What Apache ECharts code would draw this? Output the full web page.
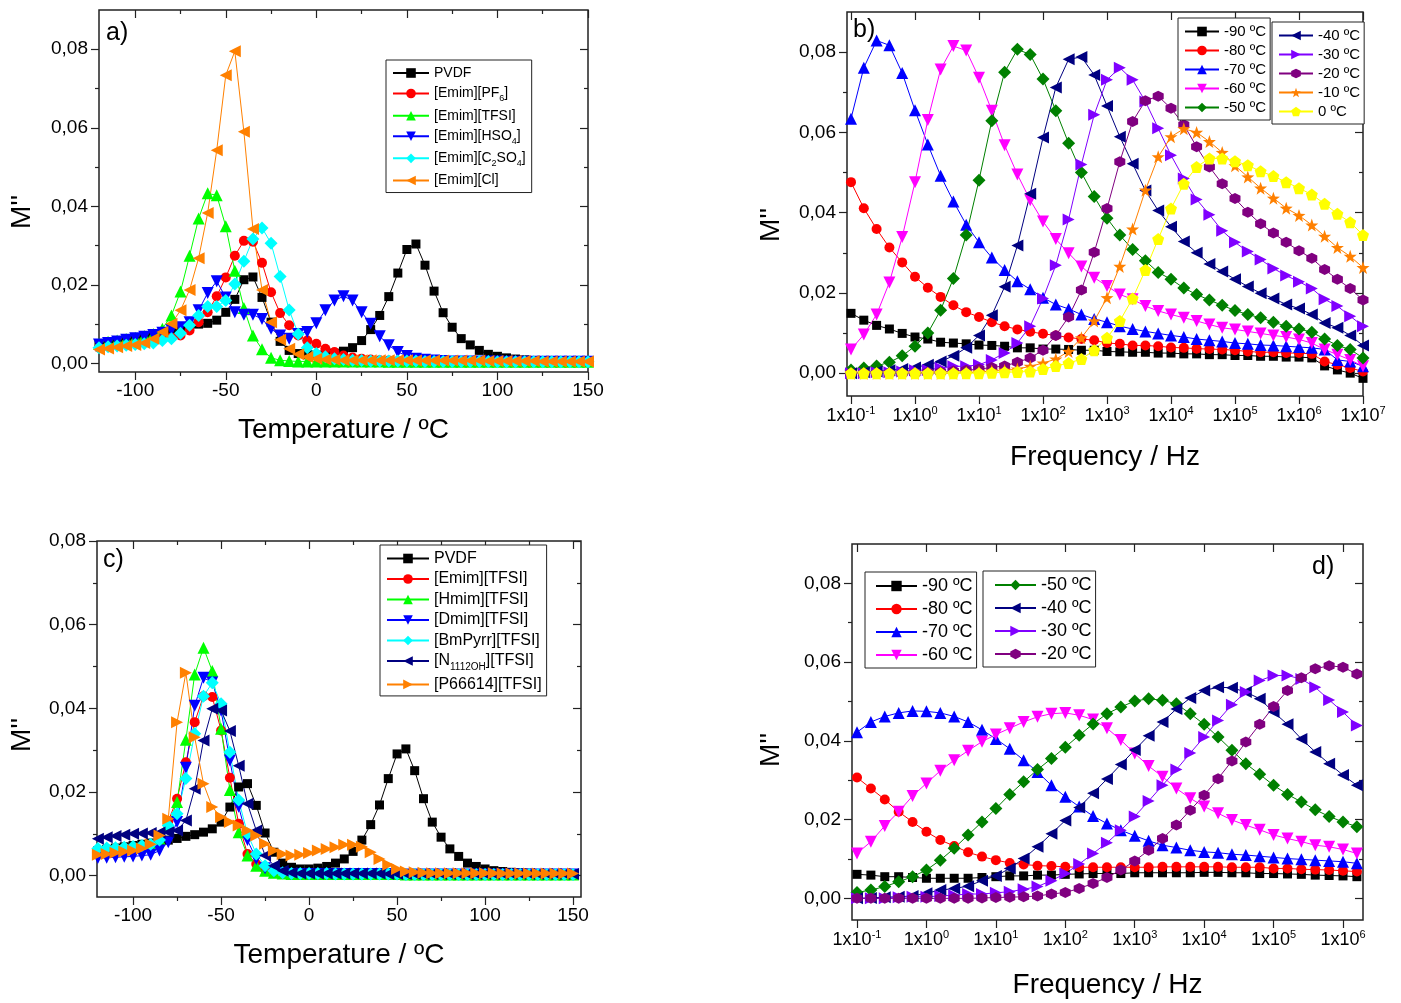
<!DOCTYPE html>
<html>
<head>
<meta charset="utf-8">
<title>M'' vs temperature and frequency</title>
<script src="https://cdn.jsdelivr.net/npm/echarts@6.0.0/dist/echarts.min.js"></script>
<style>
  html, body { margin: 0; padding: 0; background: #fff; }
  #chart { width: 1401px; height: 1003px; }
</style>
</head>
<body>
<div id="chart"></div>
<script>
// ---------- values ----------
// a) and c): M'' against temperature (ºC)
const temps = [-120,-115,-110,-105,-100,-95,-90,-85,-80,-75,-70,-65,-60,-55,-50,-45,-40,-35,-30,-25,-20,-15,-10,-5,0,5,10,15,20,25,30,35,40,45,50,55,60,65,70,75,80,85,90,95,100,105,110,115,120,125,130,135,140,145,150];

const aPVDF  = [0.0048,0.0052,0.0056,0.006,0.0064,0.0068,0.0073,0.0078,0.0083,0.009,0.0095,0.01,0.0102,0.011,0.013,0.0163,0.0213,0.022,0.0168,0.0105,0.0056,0.0033,0.0025,0.0022,0.0021,0.0023,0.0026,0.0031,0.004,0.0058,0.0086,0.0122,0.017,0.023,0.029,0.0304,0.025,0.0184,0.0129,0.0092,0.0063,0.0047,0.0033,0.0023,0.0018,0.0014,0.0011,0.0009,0.0007,0.0006,0.0005,0.0005,0.0004,0.0004,0.0004];
const aPF6   = [0.004,0.0043,0.0046,0.005,0.0053,0.0056,0.006,0.0063,0.0066,0.0071,0.0084,0.0105,0.013,0.0171,0.0219,0.0274,0.0312,0.031,0.0256,0.0181,0.0128,0.0097,0.0071,0.0058,0.005,0.0037,0.0029,0.002,0.0015,0.0012,0.001,0.0008,0.0007,0.0006,0.0005,0.0005,0.0005,0.0005,0.0005,0.0005,0.0005,0.0004,0.0004,0.0004,0.0004,0.0004,0.0004,0.0004,0.0004,0.0004,0.0004,0.0004,0.0004,0.0004,0.0004];
const aTFSI  = [0.005,0.0055,0.0058,0.0062,0.0065,0.007,0.0075,0.0088,0.0122,0.0183,0.0274,0.0369,0.0433,0.0428,0.0349,0.0236,0.0141,0.0071,0.0036,0.0014,0.0008,0.0006,0.0005,0.0005,0.0005,0.0005,0.0005,0.0005,0.0005,0.0005,0.0005,0.0005,0.0004,0.0004,0.0004,0.0004,0.0004,0.0004,0.0004,0.0004,0.0004,0.0004,0.0004,0.0004,0.0004,0.0004,0.0004,0.0004,0.0004,0.0004,0.0004,0.0004,0.0004,0.0004,0.0004];
const aHSO4  = [0.0048,0.0052,0.0056,0.006,0.0064,0.0068,0.0072,0.0078,0.0085,0.0092,0.0105,0.0135,0.0179,0.0209,0.0168,0.013,0.0124,0.0124,0.0113,0.0088,0.0071,0.0063,0.0075,0.008,0.0102,0.0135,0.016,0.0171,0.016,0.013,0.0101,0.0069,0.0046,0.0029,0.0019,0.0012,0.0009,0.0007,0.0006,0.0005,0.0005,0.0005,0.0005,0.0005,0.0005,0.0004,0.0004,0.0004,0.0004,0.0004,0.0004,0.0004,0.0004,0.0004,0.0004];
const aC2SO4 = [0.004,0.0042,0.0044,0.0046,0.0048,0.005,0.0052,0.0058,0.0063,0.0077,0.0097,0.0122,0.0145,0.0145,0.016,0.0202,0.026,0.0317,0.0345,0.0306,0.0221,0.0136,0.0075,0.004,0.0025,0.0017,0.0012,0.001,0.0008,0.0007,0.0006,0.0006,0.0006,0.0006,0.0006,0.0006,0.0005,0.0005,0.0005,0.0005,0.0005,0.0005,0.0005,0.0005,0.0004,0.0004,0.0004,0.0004,0.0004,0.0004,0.0004,0.0004,0.0004,0.0004,0.0004];
const aCl    = [0.0035,0.0038,0.0041,0.0044,0.0047,0.0052,0.0063,0.008,0.0101,0.0135,0.0187,0.0268,0.0383,0.0543,0.0734,0.0795,0.059,0.0342,0.0187,0.0105,0.006,0.0037,0.0023,0.0016,0.0012,0.001,0.0009,0.0008,0.0008,0.0008,0.0008,0.0008,0.0008,0.0008,0.0008,0.0007,0.0007,0.0007,0.0007,0.0007,0.0007,0.0007,0.0007,0.0006,0.0006,0.0006,0.0006,0.0006,0.0006,0.0005,0.0005,0.0005,0.0005,0.0005,0.0005];

const cPVDF    = [0.006,0.0063,0.0066,0.0069,0.0072,0.0075,0.0078,0.0081,0.0085,0.0089,0.0094,0.0098,0.0104,0.0112,0.0128,0.0164,0.0212,0.022,0.0168,0.0102,0.0056,0.003,0.002,0.0016,0.0016,0.0018,0.0022,0.003,0.004,0.0058,0.0085,0.0122,0.0169,0.0232,0.0291,0.0303,0.0251,0.0184,0.0128,0.0092,0.0064,0.0046,0.003,0.0022,0.0016,0.0012,0.001,0.0008,0.0007,0.0006,0.0005,0.0005,0.0004,0.0004,0.0004];
const cEmim    = [0.006,0.0062,0.0064,0.0066,0.0068,0.007,0.0074,0.0085,0.013,0.0184,0.0271,0.0367,0.0429,0.0427,0.0347,0.0234,0.0124,0.0052,0.0028,0.0015,0.001,0.0007,0.0005,0.0004,0.0004,0.0004,0.0004,0.0004,0.0004,0.0004,0.0004,0.0004,0.0004,0.0004,0.0004,0.0003,0.0003,0.0003,0.0003,0.0003,0.0003,0.0003,0.0003,0.0003,0.0003,0.0003,0.0003,0.0003,0.0003,0.0003,0.0003,0.0003,0.0003,0.0003,0.0003];
const cHmim    = [0.006,0.0062,0.0064,0.0066,0.0068,0.007,0.0075,0.0088,0.012,0.0176,0.0325,0.0481,0.0545,0.0489,0.0351,0.0205,0.0104,0.0048,0.0024,0.0012,0.0007,0.0005,0.0004,0.0004,0.0004,0.0004,0.0004,0.0004,0.0004,0.0004,0.0004,0.0004,0.0004,0.0004,0.0004,0.0003,0.0003,0.0003,0.0003,0.0003,0.0003,0.0003,0.0003,0.0003,0.0003,0.0003,0.0003,0.0003,0.0003,0.0003,0.0003,0.0003,0.0003,0.0003,0.0003];
const cDmim    = [0.0042,0.0043,0.0044,0.0045,0.0046,0.0048,0.005,0.006,0.008,0.0128,0.0258,0.0406,0.0473,0.0462,0.0395,0.0275,0.0165,0.0085,0.004,0.0018,0.001,0.0006,0.0004,0.0004,0.0004,0.0004,0.0004,0.0004,0.0004,0.0004,0.0004,0.0004,0.0004,0.0004,0.0004,0.0003,0.0003,0.0003,0.0003,0.0003,0.0003,0.0003,0.0003,0.0003,0.0003,0.0003,0.0003,0.0003,0.0003,0.0003,0.0003,0.0003,0.0003,0.0003,0.0003];
const cBmPyrr  = [0.0065,0.0066,0.0067,0.0068,0.007,0.0072,0.0075,0.0085,0.012,0.0148,0.0232,0.0339,0.0429,0.0461,0.0411,0.0295,0.0181,0.01,0.0052,0.0024,0.0012,0.0007,0.0005,0.0005,0.0005,0.0005,0.0005,0.0004,0.0004,0.0004,0.0004,0.0004,0.0004,0.0004,0.0004,0.0003,0.0003,0.0003,0.0003,0.0003,0.0003,0.0003,0.0003,0.0003,0.0003,0.0003,0.0003,0.0003,0.0003,0.0003,0.0003,0.0003,0.0003,0.0003,0.0003];
const cN1112OH = [0.0088,0.0092,0.0095,0.0098,0.01,0.0101,0.0102,0.0103,0.0104,0.0108,0.0132,0.0208,0.0323,0.0399,0.0395,0.0346,0.0263,0.0172,0.0108,0.0048,0.0024,0.0012,0.0007,0.0005,0.0005,0.0005,0.0005,0.0005,0.0005,0.0005,0.0005,0.0005,0.0005,0.0004,0.0004,0.0004,0.0004,0.0004,0.0004,0.0004,0.0004,0.0004,0.0004,0.0004,0.0004,0.0004,0.0004,0.0004,0.0004,0.0004,0.0004,0.0004,0.0004,0.0004,0.0004];
const cP66614  = [0.005,0.0052,0.0055,0.0058,0.006,0.0065,0.0075,0.0096,0.0136,0.0367,0.0485,0.0331,0.022,0.0164,0.014,0.0128,0.012,0.0108,0.0096,0.0076,0.006,0.0052,0.0048,0.005,0.0054,0.006,0.0064,0.0068,0.0074,0.0074,0.0069,0.0056,0.004,0.0026,0.0016,0.001,0.0008,0.0007,0.0006,0.0006,0.0006,0.0006,0.0006,0.0006,0.0006,0.0006,0.0005,0.0005,0.0005,0.0005,0.0005,0.0005,0.0005,0.0005,0.0005];

// b) and d): M'' against frequency (Hz), five points per decade
const freqs = [0.1,0.1585,0.2512,0.3981,0.631,1,1.585,2.512,3.981,6.31,10,15.85,25.12,39.81,63.1,100,158.5,251.2,398.1,631,1000,1585,2512,3981,6310,1e4,15850,25120,39810,63100,1e5,158500,251200,398100,631000,1e6,1585000,2512000,3981000,6310000,1e7];

const bM90 = [0.0149,0.0132,0.0119,0.011,0.0099,0.009,0.0085,0.0077,0.0075,0.0073,0.007,0.0069,0.0067,0.0063,0.0063,0.006,0.006,0.0059,0.0057,0.0057,0.0054,0.0053,0.0052,0.0052,0.005,0.005,0.0048,0.0048,0.0046,0.0046,0.0044,0.0044,0.0042,0.0042,0.004,0.004,0.0038,0.0018,0.0008,0,-0.0013];
const bM80 = [0.0476,0.0411,0.0359,0.0313,0.0276,0.024,0.0213,0.019,0.0169,0.0152,0.014,0.0127,0.0117,0.0109,0.0103,0.0098,0.0094,0.0089,0.0085,0.0082,0.0075,0.0073,0.0069,0.0069,0.0067,0.0064,0.0063,0.0061,0.006,0.0059,0.0057,0.0054,0.0052,0.0052,0.005,0.005,0.0048,0.0029,0.0021,0.0013,0.0004];
const bM70 = [0.0634,0.0761,0.0829,0.0817,0.0748,0.0655,0.057,0.0492,0.0428,0.037,0.0326,0.0288,0.0257,0.0229,0.0209,0.0188,0.0171,0.016,0.0146,0.0135,0.0127,0.0117,0.011,0.0104,0.0099,0.0094,0.009,0.0085,0.0082,0.0079,0.0075,0.0073,0.007,0.0069,0.0067,0.0065,0.0063,0.0059,0.0033,0.0029,0.0017];
const bM60 = [0.0059,0.0096,0.0146,0.0226,0.0339,0.0476,0.0631,0.0757,0.0815,0.0804,0.0736,0.0654,0.0568,0.0495,0.0431,0.0378,0.0334,0.0299,0.0266,0.0238,0.0217,0.0196,0.0184,0.0167,0.0155,0.0146,0.0138,0.013,0.0121,0.0113,0.0109,0.0104,0.0099,0.0094,0.009,0.0084,0.0075,0.0059,0.0046,0.0033,0.0017];
const bM50 = [0.0008,0.0013,0.0018,0.0027,0.0043,0.0067,0.01,0.0157,0.0236,0.0344,0.0481,0.0629,0.075,0.0807,0.0794,0.0733,0.0654,0.0573,0.05,0.044,0.0386,0.0344,0.0308,0.028,0.0251,0.0234,0.0212,0.0196,0.0182,0.0169,0.0156,0.0146,0.0138,0.0127,0.0117,0.011,0.0102,0.0085,0.0069,0.0059,0.0038];
const bM40 = [0,0.0002,0.0004,0.0007,0.001,0.0014,0.0021,0.0029,0.0043,0.0063,0.0094,0.0144,0.0215,0.0318,0.0447,0.0587,0.0712,0.0782,0.0788,0.0743,0.0666,0.0589,0.0522,0.0455,0.0405,0.0365,0.0328,0.03,0.0272,0.0253,0.0234,0.0216,0.0199,0.0186,0.0171,0.0161,0.0146,0.0125,0.0113,0.0094,0.0069];
const bM30 = [0,0,0.0002,0.0002,0.0004,0.0007,0.0008,0.0013,0.0017,0.0017,0.0021,0.0033,0.005,0.0075,0.0117,0.0186,0.0269,0.0383,0.052,0.0644,0.0731,0.0761,0.0731,0.0677,0.061,0.0543,0.0485,0.0433,0.0395,0.0355,0.0326,0.0303,0.0283,0.0261,0.0243,0.0228,0.0211,0.0184,0.0167,0.0142,0.0117];
const bM20 = [0,0,0,0,0,0,0.0002,0.0003,0.0005,0.0007,0.001,0.0014,0.0018,0.0027,0.0038,0.0057,0.0094,0.014,0.0207,0.0301,0.041,0.0527,0.0627,0.0679,0.069,0.066,0.0619,0.0564,0.0514,0.0472,0.0435,0.0401,0.0372,0.0349,0.0326,0.0305,0.0286,0.0258,0.0234,0.0211,0.0182];
const bM10 = [0,0,0,0,0,0,0,0,0,0.0001,0.0003,0.0005,0.0007,0.001,0.0017,0.0025,0.0035,0.0054,0.0088,0.013,0.0188,0.0266,0.0359,0.0456,0.0539,0.0589,0.0609,0.06,0.0577,0.055,0.0517,0.0489,0.0461,0.0436,0.0411,0.0393,0.0369,0.0341,0.0313,0.0291,0.0263];
const b0   = [0,0,0,0,0,0,0,0,0,0,0,0.0001,0.0002,0.0003,0.0004,0.001,0.0018,0.0025,0.0035,0.0057,0.0088,0.013,0.0186,0.0257,0.0334,0.041,0.0472,0.0514,0.0535,0.0535,0.0528,0.0518,0.0503,0.0491,0.0476,0.0461,0.0445,0.0422,0.0397,0.0376,0.0344];

const dM90 = [0.0061,0.0059,0.0055,0.0055,0.0053,0.0051,0.0051,0.0051,0.0051,0.0053,0.0055,0.0057,0.0057,0.0059,0.0059,0.0061,0.0062,0.0063,0.0063,0.0063,0.0065,0.0065,0.0065,0.0065,0.0065,0.0066,0.0066,0.0065,0.0065,0.0063,0.0063,0.0062,0.0061,0.0059,0.0058,0.0057,0.0055];
const dM80 = [0.0307,0.0279,0.0251,0.022,0.0194,0.0169,0.0148,0.0133,0.0117,0.0106,0.0097,0.009,0.0086,0.0083,0.0082,0.008,0.0079,0.0079,0.0079,0.0079,0.0079,0.0079,0.008,0.008,0.008,0.008,0.008,0.0079,0.0079,0.0079,0.0076,0.0076,0.0074,0.0073,0.0072,0.007,0.0068];
const dM70 = [0.0422,0.0448,0.0462,0.0471,0.0476,0.0475,0.0471,0.0462,0.0448,0.0428,0.0405,0.038,0.0351,0.0321,0.0287,0.0258,0.0233,0.0209,0.019,0.0173,0.0159,0.0146,0.0135,0.0129,0.0122,0.0118,0.0116,0.0112,0.011,0.0107,0.0104,0.0101,0.0099,0.0097,0.0095,0.0093,0.0089];
const dM60 = [0.0114,0.0144,0.0184,0.022,0.026,0.0292,0.0324,0.0351,0.0375,0.0398,0.0416,0.0432,0.0448,0.0461,0.0469,0.0471,0.0465,0.0454,0.0432,0.0402,0.0368,0.0336,0.0309,0.0279,0.0254,0.0233,0.0216,0.0199,0.0186,0.0174,0.0161,0.0152,0.0144,0.0135,0.0131,0.0124,0.0114];
const dM50 = [0.0015,0.0021,0.003,0.0042,0.0055,0.0072,0.0097,0.0127,0.0161,0.0194,0.0228,0.0264,0.0296,0.0327,0.0355,0.0384,0.0414,0.0443,0.0469,0.0486,0.0501,0.0507,0.0503,0.0494,0.0469,0.0442,0.041,0.0376,0.0342,0.0315,0.0287,0.0264,0.0245,0.0225,0.0208,0.0194,0.0182];
const dM40 = [0,0.0001,0.0003,0.0004,0.0006,0.0013,0.0021,0.0025,0.0031,0.0045,0.0057,0.0076,0.0101,0.0131,0.0164,0.0198,0.0231,0.0267,0.0303,0.034,0.0377,0.0413,0.0448,0.0481,0.0509,0.0528,0.0536,0.0535,0.0524,0.0507,0.0473,0.0442,0.0405,0.0372,0.0342,0.0313,0.0287];
const dM30 = [0,0,0,0.0003,0.0004,0.0004,0.0006,0.0008,0.0011,0.0011,0.0014,0.0017,0.0023,0.003,0.0045,0.0063,0.0087,0.0114,0.0141,0.0173,0.0208,0.0247,0.0287,0.0327,0.0369,0.041,0.0452,0.0492,0.0524,0.0553,0.0566,0.0566,0.0557,0.0536,0.0504,0.0473,0.0439];
const dM20 = [0,0,0,0,0,0,0,0,0,0.0001,0.0002,0.0003,0.0004,0.0006,0.0011,0.0015,0.0025,0.0038,0.0053,0.0072,0.0095,0.0122,0.0152,0.0186,0.0224,0.0262,0.0304,0.0349,0.0397,0.0442,0.0487,0.0528,0.056,0.0583,0.0591,0.0587,0.057];

// ---------- styling ----------
const FONT = '"Liberation Sans", Arial, Helvetica, sans-serif';
const AX = '#222';
const HEX  = 'path://M0,-10L8.66,-5L8.66,5L0,10L-8.66,5L-8.66,-5Z';
const STAR = 'path://M0,-10L2.35,-3.24L9.51,-3.09L3.8,1.24L5.88,8.09L0,4L-5.88,8.09L-3.8,1.24L-9.51,-3.09L-2.35,-3.24Z';
const PENT = 'path://M0,-10L9.51,-3.09L5.88,8.09L-5.88,8.09L-9.51,-3.09Z';

// legend names with chemical subscripts
const SUB = {
  '[Emim][PF6]': '[Emim][PF{s|6}]',
  '[Emim][HSO4]': '[Emim][HSO{s|4}]',
  '[Emim][C2SO4]': '[Emim][C{s|2}SO{s|4}]',
  '[N1112OH][TFSI]': '[N{s|1112OH}][TFSI]'
};

const grid = [], xAxis = [], yAxis = [], series = [], legend = [], title = [];

function panel(p) {
  const W = p.r - p.l, H = p.b - p.t;
  const f = p.log ? Math.log10 : (v => v);
  const xp = v => p.l + (f(v) - f(p.xMin)) / (f(p.xMax) - f(p.xMin)) * W;
  const yp = v => p.b - (v - p.yMin) / (p.yMax - p.yMin) * H;
  const type = p.log ? 'log' : 'value';
  const tick = inside => ({ show: true, inside: inside, length: 8, lineStyle: { color: AX, width: 1.2 } });
  const minor = { show: !p.log, splitNumber: 2, length: 4, lineStyle: { color: AX, width: 1.2 } };
  const nameStyle = { fontFamily: FONT, fontSize: 28, color: '#000' };

  // frame and data axes
  const g = grid.length;
  grid.push({ left: p.l, top: p.t, width: W, height: H, show: true, borderColor: AX, borderWidth: 1.5 });
  const xi = xAxis.length, yi = yAxis.length;
  xAxis.push({ gridIndex: g, type: type, logBase: 10, min: p.xMin, max: p.xMax,
    axisLine: { show: false }, axisTick: { show: false }, axisLabel: { show: false }, splitLine: { show: false },
    name: p.xName, nameLocation: 'middle', nameGap: p.xNameGap, nameTextStyle: nameStyle });
  yAxis.push({ gridIndex: g, type: 'value', min: p.yMin, max: p.yMax,
    axisLine: { show: false }, axisTick: { show: false }, axisLabel: { show: false }, splitLine: { show: false },
    name: "M''", nameLocation: 'middle', nameGap: p.yNameGap,
    nameTextStyle: Object.assign({}, nameStyle, { padding: [0, p.yShift * 2, 0, 0] }) });

  // x ticks (bottom labelled, top mirrored inward)
  const gx = grid.length;
  grid.push({ left: xp(p.xt[0]), top: p.t, width: xp(p.xt[1]) - xp(p.xt[0]), height: H });
  const xLabel = p.log
    ? { show: true, margin: 9, fontFamily: FONT, fontSize: 18, lineHeight: 22, color: '#000',
        formatter: v => '1x10{e|' + Math.round(Math.log10(v)) + '}',
        rich: { e: { fontFamily: FONT, fontSize: 11, lineHeight: 11, verticalAlign: 'top', color: '#000' } } }
    : { show: true, margin: 9, fontFamily: FONT, fontSize: 19, color: '#000' };
  const xBase = { gridIndex: gx, type: type, logBase: 10, min: p.xt[0], max: p.xt[1],
    splitLine: { show: false }, axisLine: { show: false }, minorTick: minor };
  if (!p.log) xBase.interval = 50; else xBase.splitNumber = 10;
  xAxis.push(Object.assign({}, xBase, { position: 'bottom', axisTick: tick(false), axisLabel: xLabel }));
  xAxis.push(Object.assign({}, xBase, { position: 'top', axisTick: tick(true), axisLabel: { show: false } }));
  yAxis.push({ gridIndex: gx, type: 'value', show: false });

  // y ticks (left labelled, right mirrored inward)
  const gy = grid.length;
  grid.push({ left: p.l, top: yp(0.08), width: W, height: yp(0) - yp(0.08) });
  xAxis.push({ gridIndex: gy, type: 'value', show: false });
  const yBase = { gridIndex: gy, type: 'value', min: 0, max: 0.08, interval: 0.02,
    splitLine: { show: false }, axisLine: { show: false }, minorTick: Object.assign({}, minor, { show: true }) };
  yAxis.push(Object.assign({}, yBase, { position: 'left', axisTick: tick(false),
    axisLabel: { margin: 11, fontFamily: FONT, fontSize: 19, color: '#000', formatter: v => v.toFixed(2).replace('.', ',') } }));
  yAxis.push(Object.assign({}, yBase, { position: 'right', axisTick: tick(true), axisLabel: { show: false } }));

  title.push({ text: p.tag, left: p.tagPos[0], top: p.tagPos[1], padding: 0,
    textStyle: { fontFamily: FONT, fontSize: 25, fontWeight: 'normal', color: '#000' } });

  // curves
  p.curves.forEach(c => {
    series.push({
      type: 'line', name: p.key + '::' + c[0], xAxisIndex: xi, yAxisIndex: yi,
      data: p.xs.map((x, i) => [x, c[1][i]]).filter(d => d[1] !== undefined),
      symbol: c[3], symbolRotate: c[4], symbolSize: c[5],
      itemStyle: { color: c[2] }, lineStyle: { color: c[2], width: 1 },
      emphasis: { disabled: true }, animation: false
    });
  });
}

function addLegend(key, names, o) {
  legend.push({
    orient: 'vertical', left: o.left, top: o.top, padding: o.pad, itemGap: o.gap,
    itemWidth: o.iw, itemHeight: o.ih || 12, selectedMode: false,
    backgroundColor: '#fff', borderColor: AX, borderWidth: 1, borderRadius: 0,
    data: names.map(n => key + '::' + n),
    formatter: n => { const s = n.split('::')[1]; return SUB[s] || s; },
    textStyle: { fontFamily: FONT, fontSize: o.fs, lineHeight: o.lh, color: '#000',
      rich: { s: { fontFamily: FONT, fontSize: Math.round(o.fs * 0.62), lineHeight: 9, padding: [o.fs * 0.62, 0, 0, 0], verticalAlign: 'top', color: '#000' } } }
  });
}

// marker sizes
const SQ = 9, CI = 10, TRI = 12, DIA = 13, HX = 11, ST = 13, PN = 12;

// a)
panel({ key: 'a', tag: 'a)', tagPos: [106, 21], l: 99, t: 10, r: 588, b: 372,
  xMin: -120, xMax: 150, xt: [-100, 150], yMin: -0.0022, yMax: 0.09,
  xName: 'Temperature / ºC', xNameGap: 44, yNameGap: 63, yShift: 21, xs: temps,
  curves: [
    ['PVDF', aPVDF, '#000000', 'rect', 0, SQ],
    ['[Emim][PF6]', aPF6, '#ff0000', 'circle', 0, CI],
    ['[Emim][TFSI]', aTFSI, '#00ff00', 'triangle', 0, TRI],
    ['[Emim][HSO4]', aHSO4, '#0000ff', 'triangle', 180, TRI],
    ['[Emim][C2SO4]', aC2SO4, '#00ffff', 'diamond', 0, DIA],
    ['[Emim][Cl]', aCl, '#ff8000', 'triangle', 90, TRI]
  ] });
addLegend('a', ['PVDF', '[Emim][PF6]', '[Emim][TFSI]', '[Emim][HSO4]', '[Emim][C2SO4]', '[Emim][Cl]'],
  { left: 386, top: 60, pad: [5, 6, 4, 6], gap: 4.5, iw: 36, fs: 14, lh: 16 });

// b)
const bNames = ['-90 ºC', '-80 ºC', '-70 ºC', '-60 ºC', '-50 ºC', '-40 ºC', '-30 ºC', '-20 ºC', '-10 ºC', '0 ºC'];
panel({ key: 'b', tag: 'b)', tagPos: [853, 18], l: 847, t: 12, r: 1363, b: 396, log: true,
  xMin: 0.0866, xMax: 1e7, xt: [0.1, 1e7], yMin: -0.0057, yMax: 0.09,
  xName: 'Frequency / Hz', xNameGap: 47, yNameGap: 62, yShift: 21, xs: freqs,
  curves: [
    [bNames[0], bM90, '#000000', 'rect', 0, SQ],
    [bNames[1], bM80, '#ff0000', 'circle', 0, CI],
    [bNames[2], bM70, '#0000ff', 'triangle', 0, TRI],
    [bNames[3], bM60, '#ff00ff', 'triangle', 180, TRI],
    [bNames[4], bM50, '#008000', 'diamond', 0, DIA],
    [bNames[5], bM40, '#000080', 'triangle', 90, TRI],
    [bNames[6], bM30, '#8000ff', 'triangle', -90, TRI],
    [bNames[7], bM20, '#800080', HEX, 0, HX],
    [bNames[8], bM10, '#ff8000', STAR, 0, ST],
    [bNames[9], b0, '#ffff00', PENT, 0, PN]
  ] });
addLegend('b', bNames.slice(0, 5), { left: 1178, top: 18, pad: [6, 4, 5, 6], gap: 4, iw: 34, fs: 15, lh: 15 });
addLegend('b', bNames.slice(5), { left: 1272, top: 22, pad: [6, 4, 5, 6], gap: 4, iw: 34, fs: 15, lh: 15 });

// c)
panel({ key: 'c', tag: 'c)', tagPos: [103, 548], l: 97, t: 541, r: 581, b: 897,
  xMin: -120.5, xMax: 154.5, xt: [-100, 150], yMin: -0.0051, yMax: 0.08,
  xName: 'Temperature / ºC', xNameGap: 44, yNameGap: 61, yShift: 16, xs: temps,
  curves: [
    ['PVDF', cPVDF, '#000000', 'rect', 0, SQ],
    ['[Emim][TFSI]', cEmim, '#ff0000', 'circle', 0, CI],
    ['[Hmim][TFSI]', cHmim, '#00ff00', 'triangle', 0, TRI],
    ['[Dmim][TFSI]', cDmim, '#0000ff', 'triangle', 180, TRI],
    ['[BmPyrr][TFSI]', cBmPyrr, '#00ffff', 'diamond', 0, DIA],
    ['[N1112OH][TFSI]', cN1112OH, '#000080', 'triangle', 90, TRI],
    ['[P66614][TFSI]', cP66614, '#ff8000', 'triangle', -90, TRI]
  ] });
addLegend('c', ['PVDF', '[Emim][TFSI]', '[Hmim][TFSI]', '[Dmim][TFSI]', '[BmPyrr][TFSI]', '[N1112OH][TFSI]', '[P66614][TFSI]'],
  { left: 380, top: 545, pad: [5, 5, 3, 6], gap: 3.5, iw: 42, fs: 16, lh: 17 });

// d)
const dNames = bNames.slice(0, 8);
panel({ key: 'd', tag: 'd)', tagPos: [1312, 555], l: 852, t: 544, r: 1363, b: 920, log: true,
  xMin: 0.0847, xMax: 1.94e6, xt: [0.1, 1e6], yMin: -0.0055, yMax: 0.09,
  xName: 'Frequency / Hz', xNameGap: 51, yNameGap: 67, yShift: 18, xs: freqs.slice(0, 37),
  curves: [
    [dNames[0], dM90, '#000000', 'rect', 0, SQ],
    [dNames[1], dM80, '#ff0000', 'circle', 0, CI],
    [dNames[2], dM70, '#0000ff', 'triangle', 0, TRI],
    [dNames[3], dM60, '#ff00ff', 'triangle', 180, TRI],
    [dNames[4], dM50, '#008000', 'diamond', 0, DIA],
    [dNames[5], dM40, '#000080', 'triangle', 90, TRI],
    [dNames[6], dM30, '#8000ff', 'triangle', -90, TRI],
    [dNames[7], dM20, '#800080', HEX, 0, HX]
  ] });
addLegend('d', dNames.slice(0, 4), { left: 865, top: 572, pad: [5, 4, 4, 10], gap: 5, iw: 41, ih: 13, fs: 18, lh: 18 });
addLegend('d', dNames.slice(4), { left: 983, top: 571, pad: [5, 4, 4, 11], gap: 5, iw: 41, ih: 13, fs: 18, lh: 18 });

const chart = echarts.init(document.getElementById('chart'), null, { renderer: 'canvas' });
chart.setOption({
  backgroundColor: '#ffffff',
  animation: false,
  textStyle: { fontFamily: FONT },
  title: title,
  legend: legend,
  grid: grid,
  xAxis: xAxis,
  yAxis: yAxis,
  series: series
});
</script>
</body>
</html>
